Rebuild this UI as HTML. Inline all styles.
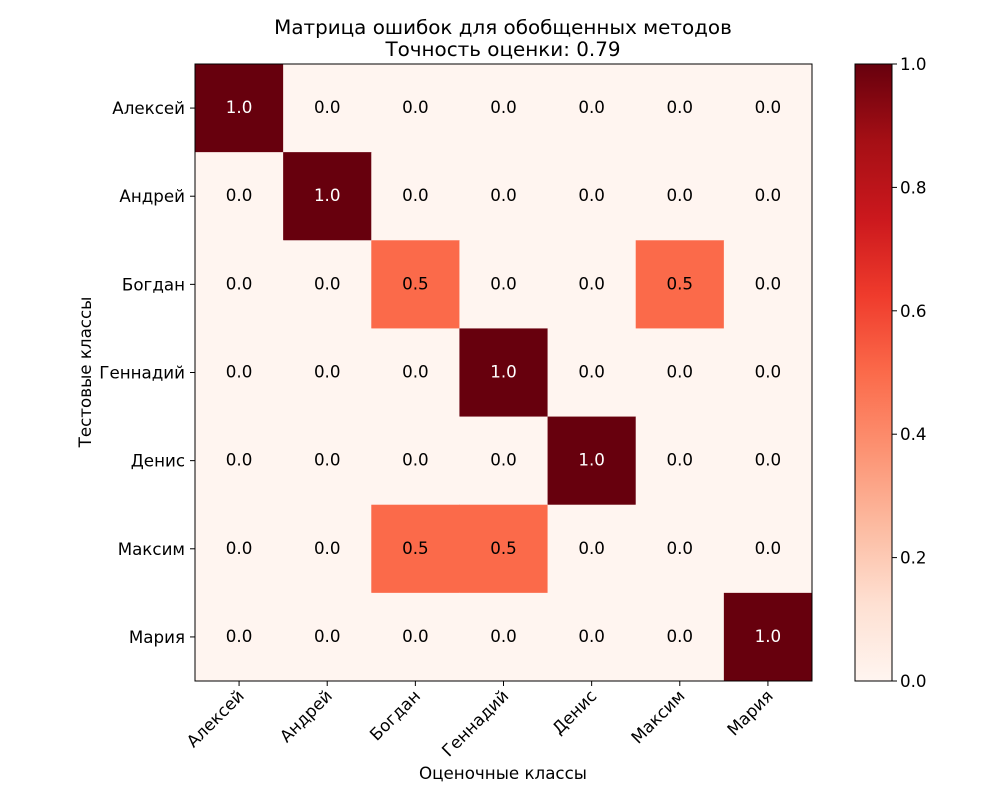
<!DOCTYPE html>
<html><head><meta charset="utf-8"><style>body{margin:0;background:#fff}svg{display:block}text{font-family:"DejaVu Sans","Liberation Sans",sans-serif}</style></head>
<body>
<svg id="chart" width="1000" height="800" xmlns="http://www.w3.org/2000/svg">
<defs><linearGradient id="reds" x1="0" y1="1" x2="0" y2="0">
<stop offset="0" stop-color="#fff5f0"/><stop offset="0.125" stop-color="#fee0d2"/><stop offset="0.25" stop-color="#fcbba1"/><stop offset="0.375" stop-color="#fc9272"/><stop offset="0.5" stop-color="#fb6a4a"/><stop offset="0.625" stop-color="#ef3b2c"/><stop offset="0.75" stop-color="#cb181d"/><stop offset="0.875" stop-color="#a50f15"/><stop offset="1" stop-color="#67000d"/></linearGradient></defs>
<text x="503" y="34" font-size="19.9" text-anchor="middle">Матрица ошибок для обобщенных методов</text>
<text x="503" y="56" font-size="19.9" text-anchor="middle">Точность оценки: 0.79</text>
<g id="cells"></g>
<rect x="195" y="64" width="617" height="617" fill="none" stroke="#000" stroke-width="1"/>
<g id="axes"></g>
<text x="503" y="779" font-size="16.7" text-anchor="middle">Оценочные классы</text>
<text transform="translate(91,372) rotate(-90)" font-size="16.7" text-anchor="middle">Тестовые классы</text>
<rect x="855" y="64" width="37" height="617" fill="url(#reds)" stroke="#000" stroke-width="1"/>
<g id="cbar"></g>
</svg>
<script>
const classes=["Алексей","Андрей","Богдан","Геннадий","Денис","Максим","Мария"];
const matrix=[
[1,0,0,0,0,0,0],
[0,1,0,0,0,0,0],
[0,0,0.5,0,0,0.5,0],
[0,0,0,1,0,0,0],
[0,0,0,0,1,0,0],
[0,0,0.5,0.5,0,0,0],
[0,0,0,0,0,0,1]];
const cbarTicks=[0,0.2,0.4,0.6,0.8,1.0];
const NS="http://www.w3.org/2000/svg";
const x0=195,y0=64,W=617,n=classes.length,cw=W/n;
const stops=[[0,[255,245,240]],[0.125,[254,224,210]],[0.25,[252,187,161]],[0.375,[252,146,114]],[0.5,[251,106,74]],[0.625,[239,59,44]],[0.75,[203,24,29]],[0.875,[165,15,21]],[1,[103,0,13]]];
function color(v){for(let i=1;i<stops.length;i++){if(v<=stops[i][0]){const a=stops[i-1],b=stops[i],t=(v-a[0])/(b[0]-a[0]);return "rgb("+a[1].map((c,k)=>Math.round(c+(b[1][k]-c)*t)).join(",")+")";}}return "rgb(103,0,13)";}
const xs=i=>x0+i*cw, ys=j=>y0+j*cw;
function mk(tag,attrs,parent){const e=document.createElementNS(NS,tag);for(const k in attrs)e.setAttribute(k,attrs[k]);parent.appendChild(e);return e;}
const cells=document.getElementById('cells'),axes=document.getElementById('axes'),cb=document.getElementById('cbar');
const maxv=1;
matrix.forEach((row,j)=>row.forEach((v,i)=>{
 const r=mk('rect',{x:xs(i),y:ys(j),width:cw+0.5,height:cw+0.5,fill:color(v/maxv)},cells);
 
 
 const t=mk('text',{x:xs(i)+cw/2,y:ys(j)+cw/2+5,'font-size':16.7,'text-anchor':'middle',fill:v>maxv/2?'#fff':'#000'},cells);
 t.textContent=v.toFixed(1);
 
 
}));
classes.forEach((c,i)=>{
 const cx=xs(i)+cw/2;
 mk('line',{x1:cx,y1:681,x2:cx,y2:686,stroke:'#000'},axes);
 const t=mk('text',{transform:`translate(${cx+6},${697}) rotate(-45)`,'font-size':16.7,'text-anchor':'end'},axes);
 t.textContent=c;
 
 
 const cy=ys(i)+cw/2;
 mk('line',{x1:190,y1:cy,x2:195,y2:cy,stroke:'#000'},axes);
 const t2=mk('text',{x:185,y:cy+6,'font-size':16.7,'text-anchor':'end'},axes);
 t2.textContent=c;
 
 
});
cbarTicks.forEach(v=>{
 const y=681-v*617;
 mk('line',{x1:892,y1:y,x2:897,y2:y,stroke:'#000'},cb);
 const t=mk('text',{x:900,y:y+6,'font-size':16.7},cb);
 t.textContent=v.toFixed(1);
 
 
});
</script>
</body></html>
